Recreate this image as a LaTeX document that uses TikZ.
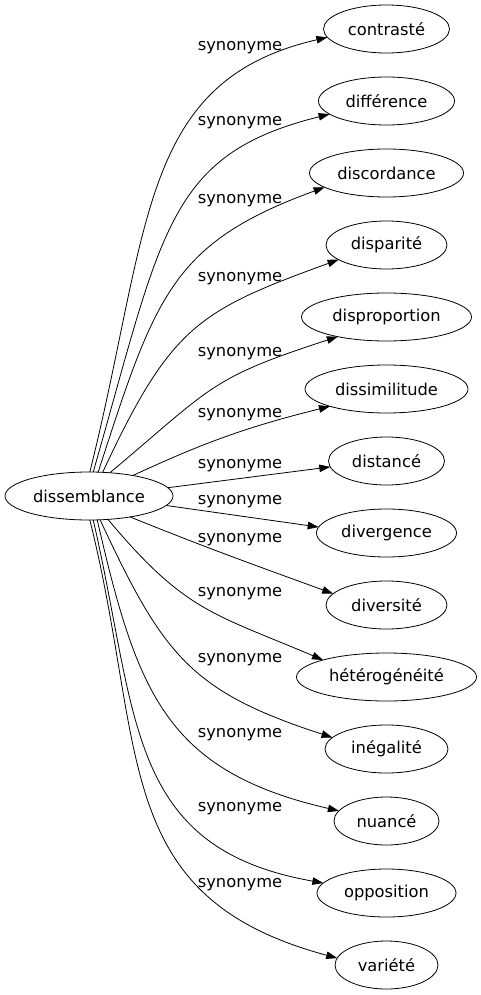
\documentclass[tikz,border=0pt]{standalone}
\usepackage{fontspec}
\setmainfont{DejaVu Sans}
\usepackage{tikz}
\usetikzlibrary{arrows.meta,positioning,shapes.geometric}

\begin{document}
\begin{tikzpicture}[
    x=1pt, y=1pt,
    node distance=24pt,%设置node之间的距离
    word/.style={
        % The shape:
        ellipse,
        minimum height=48pt,
        inner sep=0pt,
        outer sep=0pt,
        % The border
        draw=black,
        line width=0.8pt,
        % The fonts
        font=\fontsize{16.3}{19}\selectfont},
    syn/.style={inner sep=0pt, font=\fontsize{16.3}{19}\selectfont},%边上的文字
    link/.style={line width=0.8pt, -{Triangle[length=11pt,width=7.5pt]}}]
  \useasboundingbox (0,0) rectangle (481,-995);
  %绘制节点
  \node (dissemblance) [word,minimum width=168pt] at (89,-496) {dissemblance};
  \node (contraste) [word,minimum width=126pt] at (386.5,-29) {contrasté};
  \node (difference) [word,minimum width=136pt,below=of contraste] {différence};
  \node (discordance) [word,minimum width=154pt,below=of difference] {discordance};
  \node (disparite) [word,minimum width=121pt,below=of discordance] {disparité};
  \node (disproportion) [word,minimum width=170pt,below=of disparite] {disproportion};
  \node (dissimilitude) [word,minimum width=163pt,below=of disproportion] {dissimilitude};
  \node (distance) [word,minimum width=116pt,below=of dissimilitude] {distancé};
  \node (divergence) [word,minimum width=140pt,below=of distance] {divergence};
  \node (diversite) [word,minimum width=121pt,below=of divergence] {diversité};
  \node (heterogeneite) [word,minimum width=180pt,below=of diversite] {hétérogénéité};
  \node (inegalite) [word,minimum width=123pt,below=of heterogeneite] {inégalité};
  \node (nuance) [word,minimum width=105pt,below=of inegalite] {nuancé};
  \node (opposition) [word,minimum width=139pt,below=of nuance] {opposition};
  \node (variete) [word,minimum width=103pt,below=of opposition] {variété};
  %绘制标签
  \node (syn contraste) [syn] at (240,-48) {synonyme};
  \node (syn difference) [syn] at (240,-123) {synonyme};
  \node (syn discordance) [syn] at (240,-201) {synonyme};
  \node (syn disparite) [syn] at (240,-279) {synonyme};
  \node (syn disproportion) [syn] at (240,-354) {synonyme};
  \node (syn dissimilitude) [syn] at (240,-415) {synonyme};
  \node (syn distance) [syn] at (240,-466) {synonyme};
  \node (syn divergence) [syn] at (240,-502) {synonyme};
  \node (syn diversite) [syn] at (240,-540) {synonyme};
  \node (syn heterogeneite) [syn] at (240,-594) {synonyme};
  \node (syn inegalite) [syn] at (240,-660) {synonyme};
  \node (syn nuance) [syn] at (240,-735) {synonyme};
  \node (syn opposition) [syn] at (240,-809) {synonyme};
  \node (syn variete) [syn] at (240,-885) {synonyme};
  %绘制箭头
  \draw[link] (dissemblance.88) to[out=76,in=193,out looseness=1.3] (contraste.188);
  \draw[link] (dissemblance.80) to[out=74,in=194,out looseness=1.5] (difference.193);
  \draw[link] (dissemblance.69) to[out=72,in=200,out looseness=1.3,in looseness=1.15] (discordance.193);
  \draw[link] (dissemblance.60) to[out=65,in=200,out looseness=1.3,in looseness=1.2] (disparite.197);
  \draw[link] (dissemblance.48) to[out=40,in=198,looseness=1.3] (disproportion.202);
  \draw[link] (dissemblance.25) to[out=25,in=194] (dissimilitude.197);
  \draw[link] (dissemblance.6) -- (distance.186);
  \draw[link] (dissemblance.-7) -- (divergence.175);
  \draw[link] (dissemblance.-27) to[out=-22,in=160] (diversite.168);
  \draw[link] (dissemblance.-51) to[out=-50,in=157,looseness=1.2] (heterogeneite.165);
  \draw[link] (dissemblance.-65) to[out=-65,in=162,looseness=1.2] (inegalite.168);
  \draw[link] (dissemblance.-71) to[out=-77,in=167,looseness=1.2] (nuance.168);
  \draw[link] (dissemblance.-80) to[out=-77,in=170,looseness=1.2] (opposition.171);
  \draw[link] (dissemblance.-88) to[out=-76,in=165,looseness=1.2] (variete.172);
\end{tikzpicture}
\end{document}
